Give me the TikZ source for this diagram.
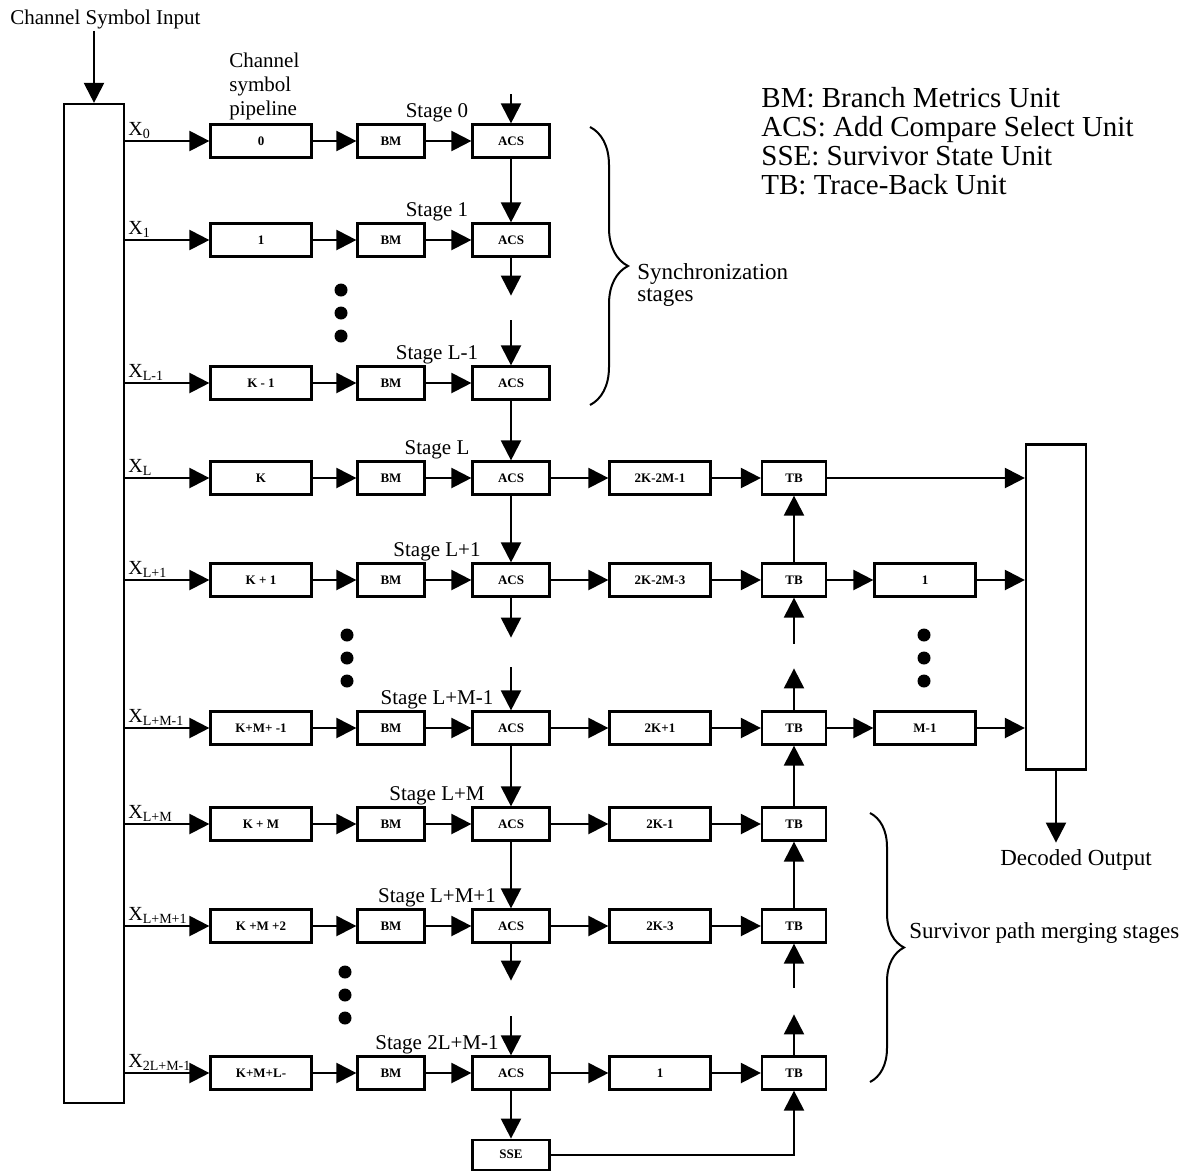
\documentclass[tikz,border=0pt]{standalone}
\usepackage{fontspec}
\setmainfont{Liberation Serif}
\usetikzlibrary{positioning,arrows.meta,decorations.pathreplacing}

\begin{document}
\begin{tikzpicture}[x=1pt, y=-1pt, thick,
    unit/.style={draw, rectangle, line width=2.2pt, minimum height=33pt, inner sep=1pt, font=\fontsize{13}{15}\selectfont\bfseries},
    pipe/.style={unit, minimum width=101pt},
    bm/.style={unit, minimum width=67pt},
    acs/.style={unit, minimum width=77pt},
    tb/.style={unit, minimum width=64pt},
    link/.style={-{Triangle[length=20pt, width=20pt]}, line width=2.2pt},
    lbl/.style={inner sep=1pt, font=\fontsize{21}{24}\selectfont},
    bracket/.style={decorate, decoration={brace, amplitude=#1}, line width=2pt}]
    \useasboundingbox (0,0) rectangle (1194,1171);

    % Nodes
    \node[lbl, anchor=north west] (title) at (9,9) {Channel Symbol Input};
    \node[draw, line width=2.2pt, minimum width=60pt, minimum height=999pt] (inbox) at (94,603.5) {};
    \node[draw, line width=2.2pt, minimum width=60pt, minimum height=325pt] (outbox) at (1056,607) {};
    \node[lbl, anchor=north west, align=left] (pipetitle) at (228,52) {Channel\\symbol\\pipeline};
    \node[lbl, anchor=north west, align=left, font=\fontsize{29}{29}\selectfont] (legend) at (760,86) {BM: Branch Metrics Unit\\ACS: Add Compare Select Unit\\SSE: Survivor State Unit\\TB: Trace-Back Unit};

    % Rows: symbol pipeline, BM and ACS
    \foreach \r/\y/\xs/\pl/\st in {0/141/0/0/0, 1/240/1/1/1, 2/383/L-1/K - 1/L-1, 3/478/L/K/L, 4/580/L+1/K + 1/L+1, 5/728/L+M-1/K+M+ -1/L+M-1, 6/824/L+M/K + M/L+M, 7/926/L+M+1/K +M +2/L+M+1, 8/1073/2L+M-1/K+M+L-/2L+M-1}{
        \node[pipe] (p\r) at (261,\y) {\pl};
        \node[bm] (b\r) at (391,\y) {BM};
        \node[acs] (a\r) at (511,\y) {ACS};
        \node[lbl, anchor=south west, font=\fontsize{20}{24}\selectfont] (x\r) at (127,\y-1) {X\textsubscript{\xs}};
        \node[lbl, anchor=south] (s\r) at (437,\y-18) {Stage \st};
        \draw[link] (inbox.east |- p\r) -- (p\r);
        \draw[link] (p\r) -- (b\r);
        \draw[link] (b\r) -- (a\r);
    }

    % Rows: survivor pipeline and TB
    \foreach \r/\y/\ql in {3/478/2K-2M-1, 4/580/2K-2M-3, 5/728/2K+1, 6/824/2K-1, 7/926/2K-3, 8/1073/1}{
        \node[pipe] (q\r) at (660,\y) {\ql};
        \node[tb] (t\r) at (794,\y) {TB};
        \draw[link] (a\r) -- (q\r);
        \draw[link] (q\r) -- (t\r);
    }
    \node[pipe] (o4) at (925,580) {1};
    \node[pipe] (o5) at (925,728) {M-1};
    \node[unit, minimum width=77pt, minimum height=30pt, below=48pt of a8] (sse) {SSE};

    % Free ends
    \coordinate[above=29pt of a0] (a0in);
    \coordinate[below=38pt of a1] (a1out);
    \coordinate[above=45pt of a2] (a2in);
    \coordinate[below=40pt of a4] (a4out);
    \coordinate[above=43pt of a5] (a5in);
    \coordinate[below=37pt of a7] (a7out);
    \coordinate[above=39pt of a8] (a8in);
    \coordinate[below=46pt of t4] (t4in);
    \coordinate[above=42pt of t5] (t5out);
    \coordinate[below=44pt of t7] (t7in);
    \coordinate[above=41pt of t8] (t8out);
    \coordinate[below=72pt of outbox] (decout);

    % Connections
    \draw[link] (title.south -| inbox.north) -- (inbox.north);
    \draw[link] (a0in) -- (a0);
    \draw[link] (a0) -- (a1);
    \draw[link] (a1) -- (a1out);
    \draw[link] (a2in) -- (a2);
    \draw[link] (a2) -- (a3);
    \draw[link] (a3) -- (a4);
    \draw[link] (a4) -- (a4out);
    \draw[link] (a5in) -- (a5);
    \draw[link] (a5) -- (a6);
    \draw[link] (a6) -- (a7);
    \draw[link] (a7) -- (a7out);
    \draw[link] (a8in) -- (a8);
    \draw[link] (a8) -- (sse);
    \draw[link] (t4) -- (t3);
    \draw[link] (t4in) -- (t4);
    \draw[link] (t5) -- (t5out);
    \draw[link] (t6) -- (t5);
    \draw[link] (t7) -- (t6);
    \draw[link] (t7in) -- (t7);
    \draw[link] (t8) -- (t8out);
    \draw[link] (sse) -| (t8);
    \draw[link] (t3) -- (outbox.west |- t3);
    \draw[link] (t4) -- (o4);
    \draw[link] (o4) -- (outbox.west |- o4);
    \draw[link] (t5) -- (o5);
    \draw[link] (o5) -- (outbox.west |- o5);
    \draw[link] (outbox) -- (decout);
    \node[lbl, below=6pt of decout, xshift=20pt, font=\fontsize{23}{26}\selectfont] (declbl) {Decoded Output};

    % Dots
    \foreach \dx/\dy in {341/290, 347/635, 345/972, 924/635}{
        \foreach \k in {0,23,46} \fill (\dx,\dy+\k) circle (6.5pt);
    }

    % Braces
    \draw[bracket=38pt] (590,127) -- (590,405);
    \node[lbl, anchor=west, align=left, font=\fontsize{23}{22}\selectfont] (synclbl) at (636,285) {Synchronization\\stages};
    \draw[bracket=34pt] (870,813) -- (870,1082);
    \node[lbl, anchor=west, font=\fontsize{23}{26}\selectfont] (survlbl) at (908,933) {Survivor path merging stages};
\end{tikzpicture}
\end{document}
